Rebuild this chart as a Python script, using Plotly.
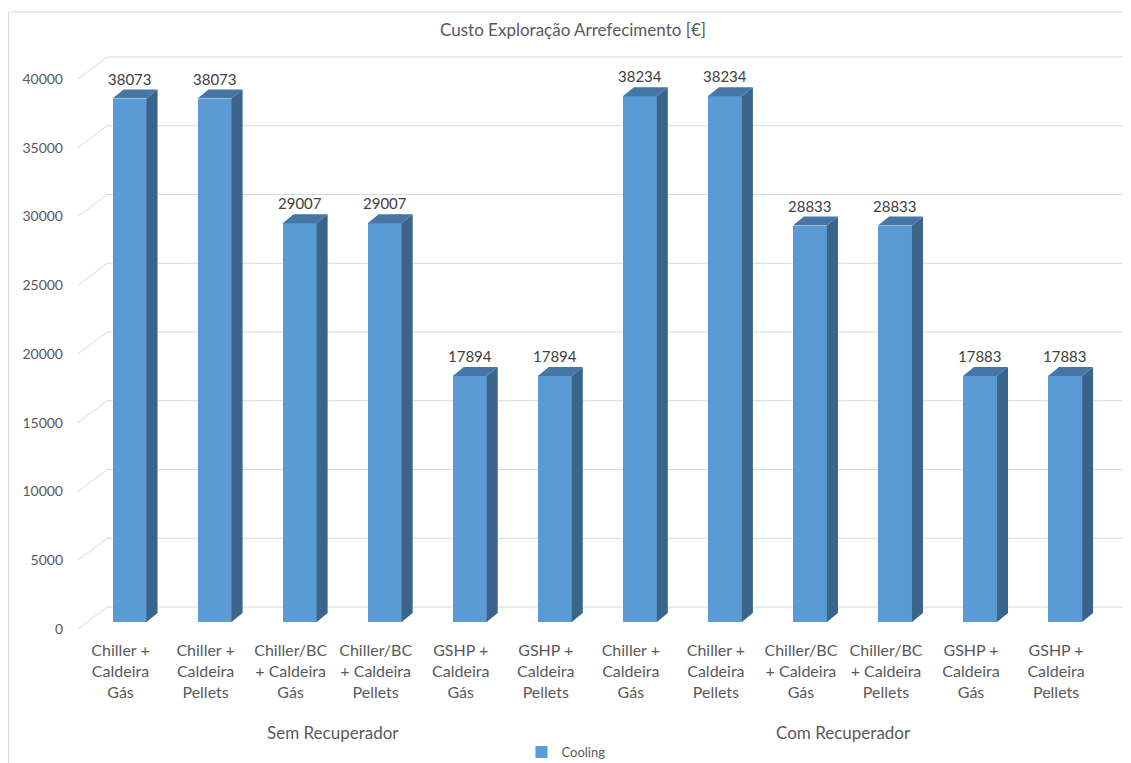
import plotly.graph_objects as go

# ---------------- data ----------------
categories = [
    "Chiller +<br>Caldeira<br>Gás", "Chiller +<br>Caldeira<br>Pellets",
    "Chiller/BC<br>+ Caldeira<br>Gás", "Chiller/BC<br>+ Caldeira<br>Pellets",
    "GSHP +<br>Caldeira<br>Gás", "GSHP +<br>Caldeira<br>Pellets",
    "Chiller +<br>Caldeira<br>Gás", "Chiller +<br>Caldeira<br>Pellets",
    "Chiller/BC<br>+ Caldeira<br>Gás", "Chiller/BC<br>+ Caldeira<br>Pellets",
    "GSHP +<br>Caldeira<br>Gás", "GSHP +<br>Caldeira<br>Pellets",
]
groups = ["Sem Recuperador", "Com Recuperador"]
group_size = 6
cooling = [38073, 38073, 29007, 29007, 17894, 17894,
           38234, 38234, 28833, 28833, 17883, 17883]
y_ticks = [0, 5000, 10000, 15000, 20000, 25000, 30000, 35000, 40000]
y_tick_labels = ["0", "5000", "10000", "15000", "20000", "25000", "30000", "35000", "40000"]
series_name = "Cooling"
title = "Custo Exploração Arrefecimento [€]"

# ---------------- layout geometry (pixels) ----------------
OFF = 8                         # page body margin
W, H = 1131 - OFF, 763 - OFF
ML = 78 - OFF
MR = W - (1128 - OFF)
MT = 56 - OFF
MB = H - (629 - OFF)
plot_w = W - ML - MR
plot_h = H - MT - MB
px_per_cat = 85.05
x0 = -0.5
x1 = x0 + plot_w / px_per_cat
k = 5000 / 68.75               # data units per pixel (y)
y1 = plot_h * k
cx = 1 / px_per_cat            # data units per pixel (x)

wall_dx, wall_dy = 29, 22      # back wall offset in px
bar_dx, bar_dy = 9, 7          # bar position inside depth
dep_dx, dep_dy = 11, 9         # bar depth
bw = 34 * cx                   # bar front width

FRONT = "#5B9BD5"
SIDE = "#3A6489"
TOP = "#4676A5"
GRID = "#D9D9D9"
TXT = "#595959"
FONT = "Lato"

n = len(cooling)
xs = list(range(n))

fig = go.Figure()

# front faces
fig.add_trace(go.Bar(
    x=xs, y=cooling, width=bw, marker=dict(color=FRONT, line=dict(width=0)),
    name=series_name, xaxis="x2", yaxis="y2", hoverinfo="y", showlegend=True,
))

# side faces & top faces
sx, sy, tx, ty = [], [], [], []
ddx, ddy = dep_dx * cx, dep_dy * k
for i, v in zip(xs, cooling):
    r = i + bw / 2
    l = i - bw / 2
    sx += [r, r + ddx, r + ddx, r, r, None]
    sy += [0, ddy, v + ddy, v, 0, None]
    tx += [l, l + ddx, r + ddx, r, l, None]
    ty += [v, v + ddy, v + ddy, v, v, None]
fig.add_trace(go.Scatter(x=sx, y=sy, mode="lines", fill="toself", fillcolor=SIDE,
                         line=dict(width=0, color=SIDE), xaxis="x2", yaxis="y2",
                         showlegend=False, hoverinfo="skip"))
fig.add_trace(go.Scatter(x=tx, y=ty, mode="lines", fill="toself", fillcolor=TOP,
                         line=dict(width=0, color=TOP), xaxis="x2", yaxis="y2",
                         showlegend=False, hoverinfo="skip"))

# data labels
for i, v in zip(xs, cooling):
    fig.add_annotation(x=i, y=v, xref="x2", yref="y2", text=str(v), showarrow=False,
                       yshift=20, yanchor="middle",
                       font=dict(family=FONT, size=15, color="#404040"))

# gridlines on back wall + left wall diagonals
for t in y_ticks:
    fig.add_shape(type="line", xref="x", yref="y", layer="below",
                  x0=x0 + wall_dx * cx, x1=x1, y0=t + wall_dy * k, y1=t + wall_dy * k,
                  line=dict(color=GRID, width=1))
    fig.add_shape(type="line", xref="x", yref="y", layer="below",
                  x0=x0, x1=x0 + wall_dx * cx, y0=t, y1=t + wall_dy * k,
                  line=dict(color=GRID, width=1))

# chart border
fig.add_shape(type="rect", xref="paper", yref="paper", layer="below",
              x0=(8 - OFF - ML + 0.5) / plot_w, x1=1.2, y0=-0.5,
              y1=(H - MB - (12 - OFF)) / plot_h,
              line=dict(color=GRID, width=1), fillcolor="rgba(0,0,0,0)")

# group labels
for g, name in enumerate(groups):
    fig.add_annotation(x=g * group_size + (group_size - 1) / 2, xref="x",
                       y=(H - MB - (732 - OFF)) / plot_h, yref="paper", yanchor="middle",
                       text=name, showarrow=False,
                       font=dict(family=FONT, size=17, color=TXT))

fig.update_layout(
    width=W, height=H,
    margin=dict(l=ML, r=MR, t=MT, b=MB, pad=0),
    paper_bgcolor="white", plot_bgcolor="white",
    title=dict(text=title, x=(573 - OFF) / W, xref="container", xanchor="center",
               y=1 - (30 - OFF) / H, yref="container", yanchor="middle",
               font=dict(family=FONT, size=17, color=TXT)),
    font=dict(family=FONT, color=TXT),
    xaxis=dict(range=[x0, x1], tickvals=xs, ticktext=categories, showgrid=False,
               zeroline=False, showline=False, ticks="", ticklabelstandoff=10,
               tickfont=dict(family=FONT, size=16, color=TXT), fixedrange=True),
    yaxis=dict(range=[0, y1], tickvals=y_ticks, ticktext=y_tick_labels,
               showgrid=False, zeroline=False,
               showline=False, ticks="", ticklabelstandoff=14,
               tickfont=dict(family=FONT, size=14, color=TXT), fixedrange=True),
    xaxis2=dict(overlaying="x", range=[x0 - bar_dx * cx, x1 - bar_dx * cx],
                visible=False, fixedrange=True),
    yaxis2=dict(overlaying="y", range=[-bar_dy * k, y1 - bar_dy * k],
                visible=False, fixedrange=True),
    legend=dict(orientation="h", xref="container", yref="container",
                x=(566 - OFF) / W, xanchor="center", y=1 - (752 - OFF) / H,
                yanchor="middle", itemwidth=30,
                font=dict(family=FONT, size=13, color=TXT)),
    bargap=0,
)

fig.write_html("out.html")
